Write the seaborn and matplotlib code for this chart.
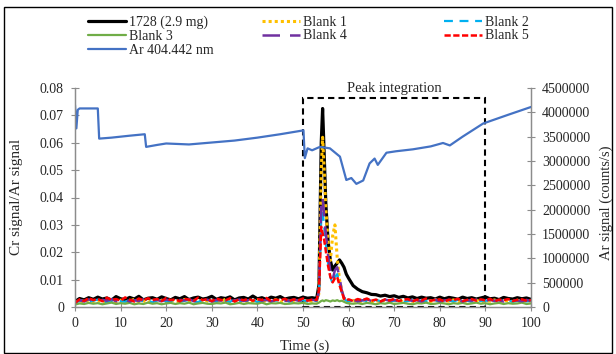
import matplotlib
matplotlib.use('Agg')
import matplotlib.pyplot as plt
from matplotlib.patches import Rectangle
from matplotlib.ticker import FuncFormatter, MultipleLocator
import seaborn as sns
import numpy as np
import pandas as pd

# Tidsaxel for Cr-signalerna (s), tätare runt toppen
time_s = list(range(0, 54)) + [53.5, 54, 54.3, 54.6, 55, 55.5, 56, 56.5, 57, 57.5,
                               58, 58.5, 59, 59.5, 60] + list(range(61, 101))

# Cr signal/Ar signal, i enheter av 0.001
cr_1728 = [2.0, 3.1, 2.6, 3.4, 2.8, 3.6, 2.9, 3.3, 2.5, 3.8,
           3.0, 2.7, 3.5, 2.9, 3.9, 2.6, 3.2, 3.4, 2.8, 3.7,
           3.1, 2.6, 3.5, 3.0, 3.8, 2.7, 3.3, 3.6, 2.9, 3.2,
           3.9, 2.8, 3.4, 3.1, 3.7, 2.6, 3.3, 3.5, 2.9, 4.0,
           3.0, 3.4, 2.7, 3.6, 3.2, 3.8, 2.9, 3.3, 3.5, 3.0,
           3.6, 3.2, 3.4, 3.1,
           8.0, 60.0, 72.5, 58.0, 38.0, 24.0, 17.0, 13.5, 15.0, 16.0,
           17.2, 16.0, 14.5, 12.0, 10.5,
           7.8, 6.5, 5.6, 5.2, 4.6, 4.5, 4.0, 4.3, 3.8, 4.1,
           3.5, 3.9, 3.3, 3.7, 3.1, 3.6, 3.2, 3.4, 2.9, 3.6,
           3.0, 3.5, 3.2, 2.8, 3.6, 3.1, 3.4, 2.9, 3.3, 3.7,
           3.0, 3.2, 2.7, 3.5, 3.1, 2.9, 3.4, 3.0, 3.3, 2.8]
cr_blank1 = [1.2, 2.3, 1.8, 2.6, 2.0, 2.4, 1.6, 2.7, 2.1, 1.9,
             2.5, 1.7, 2.2, 2.8, 1.9, 2.3, 1.6, 2.6, 2.0, 2.4,
             1.8, 2.5, 2.1, 1.7, 2.7, 2.0, 2.3, 1.9, 2.6, 2.2,
             1.6, 2.4, 2.0, 2.8, 1.8, 2.2, 2.5, 1.7, 2.3, 2.1,
             2.6, 1.9, 2.4, 2.0, 2.7, 1.8, 2.2, 2.5, 2.0, 2.3,
             1.9, 2.4, 2.1, 2.2,
             5.0, 50.0, 62.0, 52.0, 36.0, 24.0, 17.0, 26.0, 30.0, 18.0,
             10.0, 6.0, 3.0, 2.2, 2.0,
             2.4, 1.8, 2.2, 2.6, 1.9, 2.3, 2.0, 2.5, 1.7, 2.2,
             2.6, 1.9, 2.4, 2.1, 1.8, 2.5, 2.2, 2.0, 2.7, 1.9,
             2.3, 2.1, 2.6, 1.8, 2.4, 2.0, 2.2, 2.5, 1.9, 2.3,
             2.1, 2.6, 1.8, 2.4, 2.2, 2.0, 2.5, 1.9, 2.3, 2.1]
cr_blank2 = [1.6, 2.2, 2.5, 1.9, 2.3, 2.7, 2.0, 1.8, 2.4, 2.6,
             2.1, 1.9, 2.5, 2.2, 2.8, 2.0, 2.3, 1.7, 2.4, 2.6,
             2.0, 2.2, 2.7, 1.9, 2.3, 2.5, 2.1, 1.8, 2.6, 2.4,
             2.2, 2.0, 2.5, 2.3, 1.9, 2.7, 2.1, 2.4, 2.2, 2.6,
             1.8, 2.3, 2.5, 2.0, 2.4, 2.2, 2.6, 1.9, 2.3, 2.1,
             2.5, 2.0, 2.4, 2.2,
             5.0, 32.0, 35.0, 30.0, 23.0, 16.0, 11.0, 8.5, 11.0, 12.0,
             9.0, 5.0, 3.0, 2.3, 2.1,
             2.3, 2.0, 2.5, 2.2, 1.9, 2.6, 2.1, 2.4, 2.0, 2.3,
             2.5, 1.9, 2.2, 2.6, 2.0, 2.4, 2.1, 2.3, 2.5, 1.8,
             2.2, 2.4, 2.0, 2.6, 2.1, 2.3, 1.9, 2.5, 2.2, 2.4,
             2.0, 2.3, 2.6, 2.1, 2.4, 1.9, 2.2, 2.5, 2.0, 2.3]
cr_blank3 = [0.9, 1.3, 1.1, 1.5, 1.2, 1.4, 1.0, 1.3, 1.6, 1.1,
             1.4, 1.2, 1.5, 1.0, 1.3, 1.1, 1.6, 1.2, 1.4, 1.0,
             1.3, 1.5, 1.1, 1.4, 1.2, 1.6, 1.0, 1.3, 1.5, 1.2,
             1.1, 1.4, 1.3, 1.6, 1.0, 1.2, 1.5, 1.1, 1.4, 1.3,
             1.2, 1.6, 1.0, 1.4, 1.3, 1.5, 1.1, 1.2, 1.4, 1.3,
             1.5, 1.1, 1.3, 1.2,
             1.6, 2.2, 2.4, 2.1, 2.5, 2.3, 2.0, 2.4, 2.2, 2.5,
             2.1, 2.3, 1.9, 1.5, 1.3,
             1.2, 1.4, 1.1, 1.5, 1.3, 1.0, 1.4, 1.2, 1.6, 1.1,
             1.3, 1.5, 1.2, 1.0, 1.4, 1.3, 1.6, 1.1, 1.2, 1.5,
             1.3, 1.0, 1.4, 1.2, 1.5, 1.1, 1.3, 1.6, 1.2, 1.4,
             1.0, 1.3, 1.5, 1.1, 1.4, 1.2, 1.3, 1.6, 1.1, 1.3]
cr_blank4 = [1.8, 2.5, 2.0, 2.8, 2.2, 1.9, 2.6, 2.3, 2.9, 2.1,
             2.4, 2.7, 2.0, 2.5, 2.2, 2.8, 1.9, 2.4, 2.6, 2.1,
             2.7, 2.3, 2.0, 2.6, 2.4, 2.9, 2.1, 2.5, 2.2, 2.7,
             2.0, 2.6, 2.3, 2.8, 2.1, 2.4, 2.7, 2.2, 2.5, 2.0,
             2.8, 2.3, 2.6, 2.1, 2.5, 2.9, 2.2, 2.4, 2.7, 2.3,
             2.5, 2.1, 2.6, 2.4,
             5.5, 38.0, 40.0, 34.0, 27.0, 19.0, 13.0, 10.0, 13.5, 14.5,
             11.0, 6.0, 3.5, 2.5, 2.3,
             2.6, 2.1, 2.4, 2.8, 2.2, 2.5, 2.0, 2.7, 2.3, 2.6,
             2.1, 2.4, 2.8, 2.2, 2.5, 2.0, 2.6, 2.3, 2.7, 2.1,
             2.4, 2.6, 2.2, 2.8, 2.0, 2.5, 2.3, 2.7, 2.1, 2.4,
             2.6, 2.2, 2.5, 2.0, 2.7, 2.3, 2.4, 2.1, 2.6, 2.2]
cr_blank5 = [1.5, 2.8, 2.2, 3.3, 2.5, 3.0, 2.1, 3.4, 2.6, 2.9,
             2.3, 3.5, 2.7, 2.0, 3.1, 2.4, 3.2, 2.6, 2.9, 2.2,
             3.3, 2.5, 2.8, 2.1, 3.0, 2.7, 2.3, 3.4, 2.5, 2.9,
             2.2, 3.1, 2.6, 2.4, 3.2, 2.0, 2.8, 2.5, 3.0, 2.3,
             2.9, 2.6, 3.3, 2.1, 2.7, 2.4, 3.0, 2.2, 2.8, 2.5,
             3.1, 2.3, 2.7, 2.6,
             6.0, 29.3, 27.0, 25.0, 20.5, 15.0, 11.0, 9.0, 10.5, 11.0,
             8.0, 5.5, 3.0, 2.4, 2.8,
             2.2, 2.9, 2.5, 3.1, 2.3, 2.7, 2.0, 2.8, 2.4, 3.0,
             2.2, 2.6, 2.9, 2.1, 2.7, 2.4, 3.1, 2.3, 2.6, 2.8,
             2.0, 2.7, 2.5, 3.0, 2.2, 2.6, 2.9, 2.3, 2.8, 2.4,
             3.0, 2.1, 2.7, 2.5, 2.9, 2.2, 2.6, 2.8, 2.3, 2.5]

# Ar 404.442 nm (miljoner counts/s) på egen tidsaxel
ar_time_s = [0, 0.3, 0.6, 1.0, 3, 5.0, 5.3, 8, 12, 15.3,
             15.6, 18, 20, 25, 30, 35, 40, 45, 49.5, 50.1,
             50.4, 51, 52, 53.7, 55.9, 58.1, 59.5, 60.6, 61.7, 63.2,
             64.6, 65.7, 66.4, 68.3, 70.4, 74.1, 78, 80.7, 82.2, 85,
             89.5, 95, 100]
ar_signal_millions = [4.15, 3.67, 4.05, 4.08, 4.08, 4.08, 3.46, 3.48, 3.52, 3.55,
                      3.29, 3.33, 3.36, 3.34, 3.38, 3.42, 3.48, 3.55, 3.62, 3.63,
                      3.06, 3.26, 3.22, 3.29, 3.26, 3.09, 2.61, 2.65, 2.53, 2.60,
                      2.95, 3.05, 2.92, 3.17, 3.20, 3.24, 3.30, 3.37, 3.32, 3.50,
                      3.77, 3.95, 4.11]

# Integrationsfönster
peak_start, peak_end, peak_top = 50, 90, 0.0764

series_names = ['1728 (2.9 mg)', 'Blank 1', 'Blank 2', 'Blank 3', 'Blank 4', 'Blank 5']
series_values = [cr_1728, cr_blank1, cr_blank2, cr_blank3, cr_blank4, cr_blank5]
series_colors = ['#000000', '#FFC000', '#00B0F0', '#70AD47', '#7030A0', '#FF0000']
series_styles = ['-', (0, (1, 1)), (0, (4, 3)), '-', (0, (7, 4)), (0, (2.5, 1))]
series_widths = [2.3, 2.2, 1.6, 1.6, 1.8, 1.8]

cr_df = pd.DataFrame({'Tid': time_s})
for name, vals in zip(series_names, series_values):
    cr_df[name] = np.array(vals) / 1000
ar_df = pd.DataFrame({'Tid': ar_time_s, 'Ar': np.array(ar_signal_millions) * 1e6})

sns.set_style('ticks')
plt.rcParams['font.family'] = ['Liberation Serif', 'DejaVu Serif']
text_col = '#262626'
axis_col = '#8C8C8C'

fig = plt.figure(figsize=(6.16, 3.54), dpi=100)
ax = fig.add_axes([75 / 616, 1 - 307 / 354, 456 / 616, 219 / 354])
ax2 = ax.twinx()

handles = {}
for name, col, ls, lw in zip(series_names, series_colors, series_styles, series_widths):
    sns.lineplot(data=cr_df, x='Tid', y=name, ax=ax, color=col, linestyle=ls, linewidth=lw)
    handles[name] = ax.lines[-1]
sns.lineplot(data=ar_df, x='Tid', y='Ar', ax=ax2, color='#4472C4', linewidth=1.6)
handles['Ar 404.442 nm'] = ax2.lines[-1]

# Rektangel för toppintegrering
ax.add_patch(Rectangle((peak_start, 0), peak_end - peak_start, peak_top, fill=False,
                       edgecolor='black', linewidth=1.5, linestyle=(0, (3, 2)), zorder=1))
ax.annotate('Peak integration', ((peak_start + peak_end) / 2, peak_top),
            xytext=(0, 2), textcoords='offset points', ha='center', va='bottom',
            fontsize=10.5, color=text_col, annotation_clip=False)

ax.set_xlim(0, 100)
ax.set_ylim(0, 0.08)
ax2.set_ylim(0, 4500000)
ax.xaxis.set_major_locator(MultipleLocator(10))
ax.yaxis.set_major_locator(MultipleLocator(0.01))
ax2.yaxis.set_major_locator(MultipleLocator(500000))
ax.yaxis.set_major_formatter(FuncFormatter(lambda v, p: '0' if abs(v) < 1e-9 else f'{v:.2f}'))
ax2.yaxis.set_major_formatter(FuncFormatter(lambda v, p: f'{v:.0f}'))
ax.set_xlabel('')
ax.set_ylabel('')
ax2.set_ylabel('')

for a in (ax, ax2):
    a.tick_params(direction='inout', length=6, width=0.8, color=axis_col,
                  labelsize=10, labelcolor=text_col)
    for s in a.spines.values():
        s.set_color(axis_col)
        s.set_linewidth(0.9)
    a.spines['top'].set_visible(False)
ax.tick_params(axis='y', pad=5)
ax.tick_params(axis='x', pad=4)
ax2.tick_params(axis='y', pad=5)
ax2.spines['right'].set_visible(True)

fig.text(17 / 616, 1 - 197 / 354, 'Cr signal/Ar signal', rotation=90, ha='center', va='center',
         fontsize=11, color=text_col)
fig.text(606 / 616, 1 - 203 / 354, 'Ar signal (counts/s)', rotation=90, ha='center', va='center',
         fontsize=10.5, color=text_col)
fig.text(305 / 616, 1 - 346 / 354, 'Time (s)', ha='center', va='center',
         fontsize=10.5, color=text_col)

if ax.get_legend() is not None:
    ax.get_legend().remove()
if ax2.get_legend() is not None:
    ax2.get_legend().remove()

# Tre legendkolumner placerade var för sig
legend_cols = [(['1728 (2.9 mg)', 'Blank 3', 'Ar 404.442 nm'], 88),
               (['Blank 1', 'Blank 4'], 262),
               (['Blank 2', 'Blank 5'], 444)]
for names, x0 in legend_cols:
    leg = fig.legend([handles[n] for n in names], names, loc='upper left',
                     bbox_to_anchor=(x0 / 616, 1 - 15.5 / 354), frameon=False,
                     fontsize=10, borderpad=0, borderaxespad=0, handlelength=2.7,
                     handletextpad=0.25, labelspacing=0.07, labelcolor=text_col)

# Ram runt hela figuren
fig.patches.append(Rectangle((4 / 616, 1 / 354), 608 / 616, 346 / 354, transform=fig.transFigure,
                             fill=False, edgecolor='black', linewidth=1.0))

fig.savefig('out.png', dpi=100)
